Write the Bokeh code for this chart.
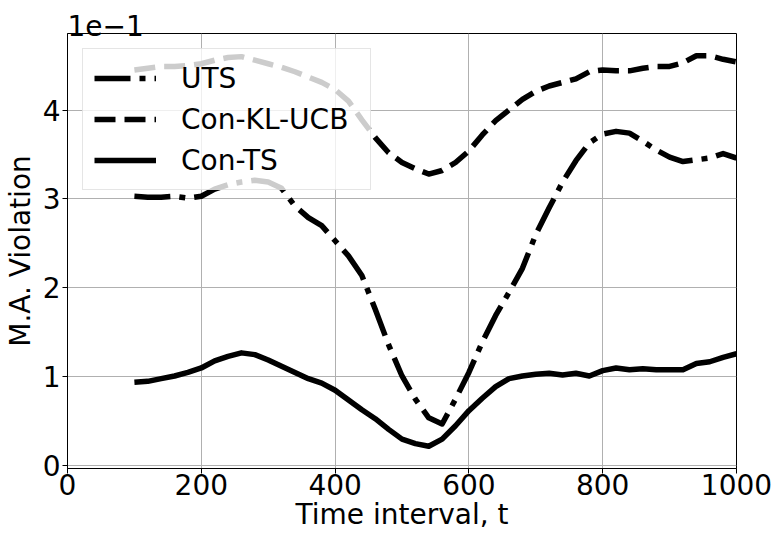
from bokeh.plotting import figure
from bokeh.models import Range1d, FixedTicker
from bokeh.embed import file_html
from bokeh.resources import INLINE

# time axis (x) shared by all series
t = [100, 120, 140, 160, 180, 200, 220, 240, 260, 280, 300, 320, 340, 360, 380,
     400, 420, 440, 460, 480, 500, 520, 540, 560, 580, 600, 620, 640, 660, 680,
     700, 720, 740, 760, 780, 800, 820, 840, 860, 880, 900, 920, 940, 960, 980, 1000]

# values in units of 1e-1
uts = [3.03, 3.02, 3.02, 3.03, 3.01, 3.03, 3.11, 3.16, 3.19, 3.21, 3.19, 3.12, 2.92, 2.79, 2.70,
       2.53, 2.36, 2.14, 1.76, 1.36, 1.01, 0.75, 0.54, 0.47, 0.75, 1.05, 1.39, 1.69, 1.95, 2.22,
       2.60, 2.90, 3.19, 3.43, 3.63, 3.73, 3.76, 3.74, 3.65, 3.55, 3.47, 3.42, 3.44, 3.46, 3.51, 3.46]

con_kl_ucb = [4.45, 4.47, 4.49, 4.49, 4.50, 4.52, 4.56, 4.59, 4.60, 4.56, 4.52, 4.48, 4.43, 4.37, 4.31,
              4.23, 4.10, 3.89, 3.69, 3.52, 3.41, 3.34, 3.28, 3.32, 3.41, 3.54, 3.72, 3.88, 4.00, 4.12,
              4.21, 4.27, 4.31, 4.35, 4.43, 4.45, 4.44, 4.44, 4.47, 4.49, 4.49, 4.53, 4.61, 4.61, 4.57, 4.54]

con_ts = [0.94, 0.95, 0.98, 1.01, 1.05, 1.10, 1.18, 1.23, 1.27, 1.25, 1.19, 1.12, 1.05, 0.98, 0.93,
          0.85, 0.74, 0.63, 0.53, 0.41, 0.30, 0.25, 0.22, 0.30, 0.45, 0.62, 0.76, 0.89, 0.98, 1.01,
          1.03, 1.04, 1.02, 1.04, 1.01, 1.07, 1.10, 1.08, 1.09, 1.08, 1.08, 1.08, 1.15, 1.17, 1.22, 1.26]

x_ticks = [0, 200, 400, 600, 800, 1000]
y_ticks = [0, 1, 2, 3, 4]
scale_text = "1e\u22121"

FONT = "DejaVu Sans"
FS = "28px"

p = figure(frame_width=669, frame_height=435, output_backend="svg", toolbar_location=None,
           x_range=Range1d(0, 1000), y_range=Range1d(-0.03, 4.86),
           min_border_left=67, min_border_right=45, min_border_top=33, min_border_bottom=78,
           title=scale_text)

p.title.align = "left"
p.title.text_font = FONT
p.title.text_font_size = FS
p.title.text_font_style = "normal"
p.title.text_color = "black"
p.title.standoff = -4
p.title.vertical_align = "bottom"
p.title.offset = 0

p.line(t, uts, line_color="black", line_width=5.5, line_dash="36 9 6 9",
       line_join="round", legend_label="UTS")
p.line(t, con_kl_ucb, line_color="black", line_width=5.5, line_dash="21 9",
       line_join="round", legend_label="Con-KL-UCB")
p.line(t, con_ts, line_color="black", line_width=5.5,
       line_join="round", legend_label="Con-TS")

p.xaxis.ticker = FixedTicker(ticks=x_ticks)
p.yaxis.ticker = FixedTicker(ticks=y_ticks)
p.xaxis.axis_label = "Time interval, t"
p.yaxis.axis_label = "M.A. Violation"

for ax in (p.xaxis, p.yaxis):
    ax.axis_label_text_font = FONT
    ax.axis_label_text_font_size = FS
    ax.axis_label_text_font_style = "normal"
    ax.axis_label_text_color = "black"
    ax.major_label_text_font = FONT
    ax.major_label_text_font_size = FS
    ax.major_label_text_color = "black"
    ax.major_tick_out = 5
    ax.major_tick_in = 0
    ax.minor_tick_out = 0
    ax.minor_tick_in = 0
    ax.axis_line_color = "black"
    ax.major_tick_line_color = "black"

p.xaxis.major_label_standoff = 0
p.xaxis.axis_label_standoff = 0
p.yaxis.major_label_standoff = 2
p.yaxis.axis_label_standoff = 3

p.grid.grid_line_color = "#b0b0b0"
p.grid.grid_line_width = 1
p.outline_line_color = "black"
p.outline_line_width = 1
p.background_fill_color = "white"
p.border_fill_color = "white"

lg = p.legend[0]
lg.location = "top_left"
lg.margin = 15
lg.padding = 11
lg.spacing = 5
lg.glyph_width = 62
lg.glyph_height = 36
lg.label_height = 36
lg.label_width = 178
lg.label_standoff = 25
lg.label_text_font = FONT
lg.label_text_font_size = FS
lg.label_text_color = "black"
lg.border_line_color = "#cccccc"
lg.border_line_width = 1
lg.background_fill_color = "white"
lg.background_fill_alpha = 0.8

open("out.html", "w").write(file_html(p, INLINE))
